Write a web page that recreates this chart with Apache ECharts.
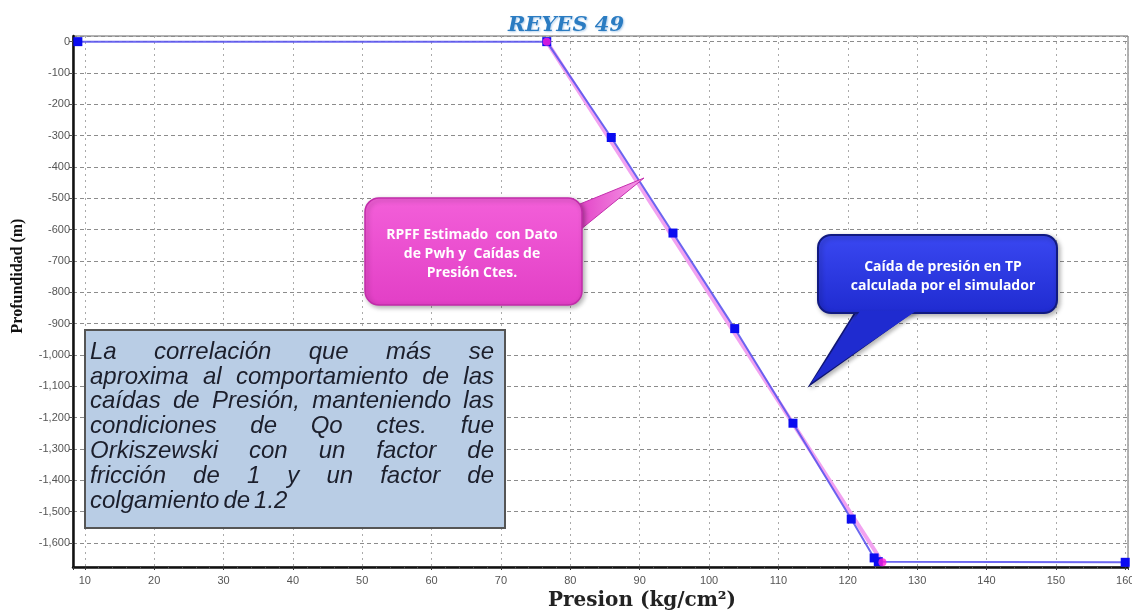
<!DOCTYPE html>
<html>
<head>
<meta charset="utf-8">
<script src="https://cdn.jsdelivr.net/npm/echarts@6/dist/echarts.min.js"></script>
<style>
  html, body { margin: 0; padding: 0; background: #fff; }
  #chart { width: 1132px; height: 611px; }
</style>
</head>
<body>
<div id="chart"></div>
<script>
// Simulated pressure drop in tubing (blue squares)
const presionSim = [9, 76.6, 85.9, 94.8, 103.7, 112.1, 120.5, 123.8, 124.4, 160];
const profSim = [0, 0, -306, -611, -916, -1218, -1524, -1648, -1660, -1662];

// RPFF estimated from Pwh (pink line)
const presionRpff = [76.6, 125];
const profRpff = [0, -1662];

// Note text, one entry per line
const noteLines = [
  "La correlación que más se",
  "aproxima al comportamiento de las",
  "caídas de Presión, manteniendo las",
  "condiciones de Qo ctes. fue",
  "Orkiszewski con un factor de",
  "fricción de 1 y un factor de",
  "colgamiento de 1.2"
];
const pinkNote = "RPFF Estimado  con Dato\nde Pwh y  Caídas de\nPresión Ctes.";
const blueNote = "Caída de presión en TP\ncalculada por el simulador";

const simData = presionSim.map((x, i) => [x, profSim[i]]);
const rpffData = presionRpff.map((x, i) => [x, profRpff[i]]);

// justify the note lines by placing each word
const noteFont = 'italic 24px "Liberation Sans"';
const ctx = document.createElement('canvas').getContext('2d');
ctx.font = noteFont;
const noteLeft = 90, noteRight = 494;
const noteWords = [];
noteLines.forEach((line, i) => {
  const words = line.split(' ');
  const y = 352 + 24.9 * i;
  const widths = words.map(w => ctx.measureText(w).width);
  const sum = widths.reduce((a, b) => a + b, 0);
  const last = i === noteLines.length - 1;
  const gap = last ? ctx.measureText(' ').width * 0.6 : (noteRight - noteLeft - sum) / (words.length - 1);
  let x = noteLeft;
  words.forEach((w, j) => {
    noteWords.push({
      type: 'text', z: 102, x: x, y: y,
      style: { text: w, font: noteFont, fill: '#1c1f2c', verticalAlign: 'middle' }
    });
    x += widths[j] + gap;
  });
});

const option = {
  animation: false,
  title: {
    text: 'REYES 49',
    left: 'center',
    top: 10,
    textStyle: {
      fontFamily: 'DejaVu Serif', fontStyle: 'italic', fontWeight: 'bold',
      fontSize: 21, color: '#2b7cc2',
      textShadowColor: 'rgba(120,170,220,0.6)', textShadowBlur: 2, textShadowOffsetX: 1, textShadowOffsetY: 1
    }
  },
  grid: {
    left: 73, right: 4, top: 36, bottom: 44,
    outerBoundsMode: 'none',
    show: true, borderColor: '#666', borderWidth: 1
  },
  xAxis: {
    type: 'value',
    min: 8.3, max: 160.4,
    splitNumber: 15,
    axisLine: { onZero: false, lineStyle: { color: '#111', width: 2.5 } },
    axisTick: { length: 3, lineStyle: { color: '#333' } },
    minorTick: { show: true, splitNumber: 5, length: 2, lineStyle: { color: '#555' } },
    axisLabel: {
      showMinLabel: false, showMaxLabel: false,
      color: '#555', fontSize: 11, fontFamily: 'Liberation Sans', margin: 8,
      formatter: v => (Math.abs(v % 10) < 0.01 ? String(v) : '')
    },
    splitLine: { lineStyle: { color: '#aaa', type: [2, 4], width: 1 } }
  },
  yAxis: {
    type: 'value',
    min: -1677, max: 18,
    splitNumber: 17,
    axisLine: { onZero: false, lineStyle: { color: '#111', width: 2.5 } },
    axisTick: { length: 4, lineStyle: { color: '#555' } },
    axisLabel: {
      showMinLabel: false, showMaxLabel: false,
      color: '#555', fontSize: 11, fontFamily: 'Liberation Sans', margin: 3,
      formatter: v => (Math.abs(v % 100) < 0.01 ? echarts.format.addCommas(v) : '')
    },
    splitLine: { lineStyle: { color: '#8c8c8c', type: [4, 3], width: 1 } }
  },
  series: [
    {
      name: 'RPFF',
      type: 'line',
      data: rpffData,
      symbol: 'none',
      lineStyle: { color: '#f2a2f0', width: 4 },
      z: 2
    },
    {
      name: 'Simulador',
      type: 'line',
      data: simData,
      symbol: 'rect',
      symbolSize: 9,
      itemStyle: { color: '#0b0bf0' },
      lineStyle: { color: '#5c56ee', width: 2, opacity: 0.9 },
      z: 3
    },
    {
      name: 'RPFF puntos',
      type: 'scatter',
      data: rpffData,
      symbol: 'circle',
      symbolSize: 8,
      itemStyle: { color: '#ff1fd8' },
      z: 4
    }
  ],
  graphic: [
    // y axis name
    {
      type: 'text', x: 18, y: 276, rotation: Math.PI / 2,
      style: {
        text: 'Profundidad (m)', font: 'bold 16px "Liberation Serif"',
        fill: '#111', align: 'center', verticalAlign: 'middle'
      }
    },
    // x axis name
    {
      type: 'text', x: 642, y: 601,
      style: {
        text: 'Presion (kg/cm²)', font: 'bold 20px "DejaVu Serif"',
        fill: '#222', align: 'center', verticalAlign: 'middle'
      }
    },
    // pink callout
    {
      type: 'polygon', z: 100,
      shape: { points: [[575, 206], [644, 178], [575, 234]] },
      style: {
        fill: new echarts.graphic.LinearGradient(0, 0, 1, 0, [
          { offset: 0, color: '#e13fc5' }, { offset: 1, color: '#f79be8' }
        ]),
        stroke: '#c42fad', lineWidth: 1
      }
    },
    {
      type: 'rect', z: 101,
      shape: { x: 365, y: 198, width: 217, height: 107, r: 14 },
      style: {
        fill: new echarts.graphic.LinearGradient(0, 0, 0, 1, [
          { offset: 0, color: '#f35fd9' }, { offset: 1, color: '#e23fc6' }
        ]),
        stroke: '#c12ca9', lineWidth: 1.5,
        shadowColor: 'rgba(0,0,0,0.3)', shadowBlur: 5, shadowOffsetX: 2, shadowOffsetY: 2
      }
    },
    {
      type: 'text', z: 102, x: 472, y: 254,
      style: {
        text: pinkNote, font: 'bold 14px "Open Sans"', fill: '#fff',
        align: 'center', verticalAlign: 'middle', lineHeight: 19
      }
    },
    // blue callout
    {
      type: 'polygon', z: 100,
      shape: { points: [[858, 308], [810, 385], [918, 308]] },
      style: {
        fill: new echarts.graphic.LinearGradient(0, 0, 0, 1, [
          { offset: 0, color: '#2b38e6' }, { offset: 1, color: '#1a22b8' }
        ]),
        stroke: '#0f1575', lineWidth: 1.5,
        shadowColor: 'rgba(0,0,0,0.3)', shadowBlur: 4, shadowOffsetX: 2, shadowOffsetY: 2
      }
    },
    {
      type: 'rect', z: 101,
      shape: { x: 818, y: 235, width: 239, height: 78, r: 13 },
      style: {
        fill: new echarts.graphic.LinearGradient(0, 0, 0, 1, [
          { offset: 0, color: '#3a48f2' }, { offset: 1, color: '#1f2bd0' }
        ]),
        stroke: '#111a80', lineWidth: 2,
        shadowColor: 'rgba(0,0,0,0.3)', shadowBlur: 5, shadowOffsetX: 2, shadowOffsetY: 2
      }
    },
    {
      type: 'polygon', z: 101,
      shape: { points: [[860, 311], [811, 383], [916, 311]] },
      style: { fill: '#1f2bd0' }
    },
    {
      type: 'text', z: 102, x: 943, y: 277,
      style: {
        text: blueNote, font: 'bold 14px "Open Sans"', fill: '#fff',
        align: 'center', verticalAlign: 'middle', lineHeight: 19
      }
    },
    // note box
    {
      type: 'rect', z: 101,
      shape: { x: 85, y: 330, width: 420, height: 198 },
      style: { fill: '#b9cde5', stroke: '#555', lineWidth: 2 }
    }
  ].concat(noteWords)
};

const chart = echarts.init(document.getElementById('chart'));
chart.setOption(option);
</script>
</body>
</html>
